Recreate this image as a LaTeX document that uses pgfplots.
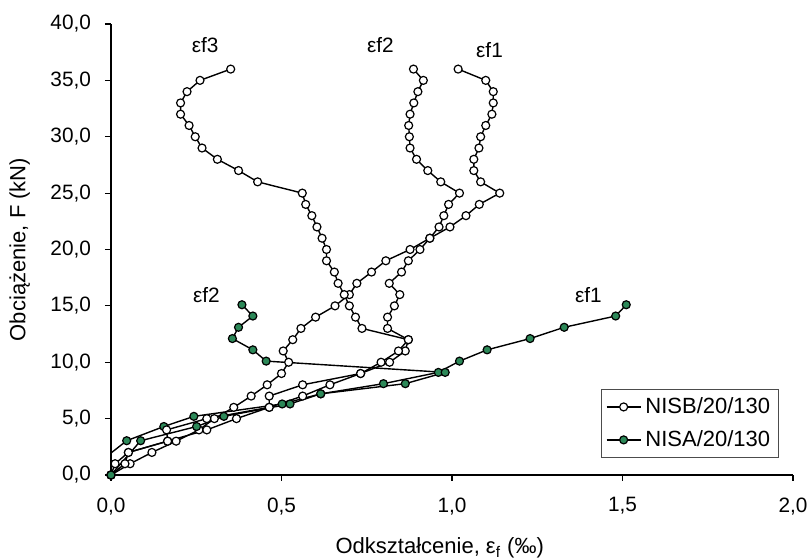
\documentclass[border=0pt]{standalone}
\usepackage{pgfplots}
\pgfplotsset{compat=1.18}
\usepackage{fontspec}
\setmainfont{Liberation Sans}
\definecolor{grn}{RGB}{44,136,88}

\pgfplotstableread{
x y
0 0
0.056 1
0.120 2
0.191 3
0.258 4
0.303 5
0.360 6
0.411 7
0.458 8
0.500 9
0.521 10
0.505 11
0.533 12
0.557 13
0.600 14
0.657 15
0.699 16
0.721 17
0.764 18
0.806 19
0.877 20
0.935 21
0.994 22
1.041 23
1.080 24
1.140 25
1.084 26
1.064 27
1.064 28
1.079 29
1.084 30
1.099 31
1.117 32
1.121 33
1.121 34
1.099 35
1.018 36
}\Bone

\pgfplotstableread{
x y
0 0
0.012 1
0.051 2
0.166 3
0.281 4
0.368 5
0.464 6
0.562 7
0.642 8
0.732 9
0.817 10
0.863 11
0.872 12
0.811 13
0.811 14
0.831 15
0.847 16
0.816 17
0.852 18
0.872 19
0.906 20
0.935 21
0.962 22
0.976 23
0.990 24
1.022 25
0.967 26
0.929 27
0.896 28
0.877 29
0.875 30
0.873 31
0.877 32
0.888 33
0.900 34
0.916 35
0.887 36
}\Btwo

\pgfplotstableread{
x y
0 0
0.041 1
0.051 2
0.166 3
0.163 4
0.281 5
0.464 6
0.464 7
0.562 8
0.732 9
0.792 10
0.843 11
0.872 12
0.736 13
0.717 14
0.699 15
0.684 16
0.666 17
0.655 18
0.632 19
0.632 20
0.619 21
0.604 22
0.589 23
0.571 24
0.561 25
0.430 26
0.374 27
0.312 28
0.267 29
0.247 30
0.229 31
0.204 32
0.204 33
0.223 34
0.261 35
0.351 36
}\Bthree

\pgfplotstableread{
x y
0 0
0 1.95
0.046 3.04
0.155 4.3
0.243 5.2
0.502 6.3
0.615 7.2
0.799 8.1
0.960 9.1
1.022 10.1
1.103 11.1
1.229 12.1
1.329 13.1
1.480 14.1
1.511 15.1
}\Aone

\pgfplotstableread{
x y
0 0
0.087 3.04
0.251 4.3
0.331 5.2
0.525 6.3
0.615 7.2
0.863 8.1
0.980 9.1
0.455 10.1
0.416 11.1
0.356 12.1
0.374 13.1
0.416 14.1
0.384 15.1
}\Atwo

\begin{document}
\begin{tikzpicture}
\begin{axis}[
  name=ax,
  scale only axis, width=341pt, height=225.5pt,
  xmin=0, xmax=2, ymin=0, ymax=40,
  axis lines*=left,
  axis line style={line width=0.6pt},
  xtick={0,0.5,1,1.5,2}, ytick={0,5,...,40},
  tick align=outside, major tick length=3pt,
  tick style={line width=0.6pt, black},
  /pgf/number format/.cd, use comma, fixed, fixed zerofill, precision=1, assume math mode=true,
  /pgfplots/.cd,
  tick label style={font=\fontsize{10.4}{12}\selectfont},
  yticklabel style={xshift=-3.5pt},
  xticklabel style={yshift=-4.8pt},
  label style={font=\fontsize{11}{13}\selectfont},
  xlabel={Odkształcenie, ε\textsubscript{f} (‰)},
  ylabel={Obciążenie, F (kN)},
  xlabel style={at={(axis description cs:0.482,-0.162)}, anchor=center},
  ylabel style={at={(axis description cs:-0.134,0.5)}, anchor=center},
  clip=false,
  legend cell align=left,
  legend style={at={(axis description cs:0.979,0.038)}, anchor=south east,
    font=\fontsize{11}{13}\selectfont, draw=black!70, line width=0.5pt,
    inner sep=2pt, row sep=3pt},
  every axis plot/.append style={line width=0.7pt, black},
]
\addplot[black, mark=*, mark size=2pt, mark options={fill=white, draw=black, line width=0.6pt}] table[x=x,y=y] {\Bone};
\addlegendentry{NISB/20/130}
\addplot[black, mark=*, mark size=2pt, mark indices={1,3,4,5,6,7,8,9,10,11,12,13,14,15}, mark options={fill=grn, draw=black, line width=0.6pt}, forget plot] table[x=x,y=y] {\Aone};
\addplot[black, mark=*, mark size=2pt, mark options={fill=white, draw=black, line width=0.6pt}, forget plot] table[x=x,y=y] {\Btwo};
\addplot[black, mark=*, mark size=2pt, mark options={fill=white, draw=black, line width=0.6pt}, forget plot] table[x=x,y=y] {\Bthree};
\addplot[black, mark=*, mark size=2pt, mark options={fill=grn, draw=black, line width=0.6pt}] table[x=x,y=y] {\Atwo};
\addlegendentry{NISA/20/130}
\node[font=\fontsize{10.4}{12}\selectfont] at (axis cs:0.276,38.1) {εf3};
\node[font=\fontsize{10.4}{12}\selectfont] at (axis cs:0.79,38.1) {εf2};
\node[font=\fontsize{10.4}{12}\selectfont] at (axis cs:1.11,37.7) {εf1};
\node[font=\fontsize{10.4}{12}\selectfont] at (axis cs:0.28,16.0) {εf2};
\node[font=\fontsize{10.4}{12}\selectfont] at (axis cs:1.40,16.0) {εf1};
\end{axis}
\pgfresetboundingbox
\path ([shift={(-55.5pt,-42.5pt)}]ax.south west) rectangle ([shift={(8pt,12pt)}]ax.north east);
\end{tikzpicture}
\end{document}
